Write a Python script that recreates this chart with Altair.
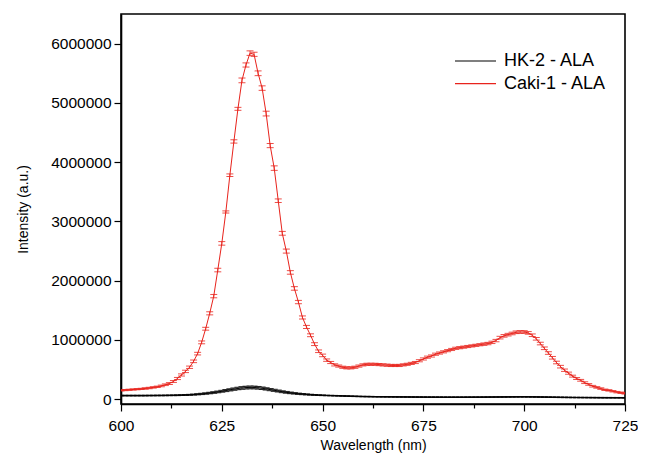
import altair as alt
import pandas as pd

wavelength = list(range(600, 726))

caki_ala = [
    150000, 155000, 160000, 165000, 170000, 175000, 182000, 190000, 200000, 210000,
    225000, 245000, 265000, 300000, 350000, 410000, 470000, 540000, 640000, 770000,
    960000, 1190000, 1450000, 1740000, 2180000, 2630000, 3160000, 3780000, 4350000, 4900000,
    5380000, 5640000, 5840000, 5820000, 5500000, 5250000, 4820000, 4280000, 3900000, 3350000,
    2800000, 2500000, 2140000, 1870000, 1640000, 1380000, 1220000, 1080000, 930000, 810000,
    740000, 660000, 620000, 580000, 560000, 540000, 530000, 530000, 540000, 560000,
    580000, 590000, 590000, 590000, 585000, 580000, 575000, 570000, 570000, 570000,
    580000, 590000, 605000, 620000, 650000, 680000, 710000, 730000, 760000, 780000,
    800000, 820000, 840000, 860000, 870000, 880000, 890000, 900000, 910000, 920000,
    930000, 940000, 960000, 990000, 1040000, 1070000, 1090000, 1110000, 1130000, 1135000,
    1135000, 1120000, 1080000, 1020000, 940000, 860000, 780000, 700000, 620000, 550000,
    490000, 440000, 390000, 350000, 320000, 280000, 250000, 220000, 200000, 180000,
    160000, 150000, 135000, 120000, 110000, 100000,
]

caki_err = [
    10000, 10000, 10000, 10000, 10000, 10000, 12000, 12000, 12000, 12000,
    14000, 14000, 16000, 16000, 18000, 18000, 20000, 20000, 22000, 22000,
    24000, 24000, 26000, 28000, 30000, 30000, 18000, 22000, 28000, 25000,
    40000, 35000, 38000, 35000, 40000, 38000, 40000, 35000, 38000, 30000,
    32000, 34000, 30000, 30000, 28000, 26000, 26000, 24000, 24000, 22000,
    22000, 20000, 18000, 18000, 18000, 18000, 18000, 18000, 18000, 18000,
    18000, 18000, 18000, 18000, 18000, 18000, 18000, 18000, 18000, 18000,
    18000, 18000, 18000, 18000, 18000, 18000, 18000, 18000, 18000, 18000,
    18000, 18000, 18000, 18000, 18000, 18000, 18000, 18000, 18000, 18000,
    20000, 20000, 20000, 20000, 22000, 22000, 22000, 22000, 22000, 22000,
    22000, 22000, 22000, 22000, 22000, 22000, 22000, 22000, 22000, 22000,
    20000, 18000, 16000, 16000, 15000, 15000, 14000, 14000, 13000, 13000,
    12000, 12000, 12000, 12000, 12000, 12000,
]

hk2_ala = [
    62000, 62000, 62000, 62000, 62000, 62000, 62000, 63000, 63000, 64000,
    64000, 65000, 66000, 67000, 68000, 70000, 72000, 75000, 79000, 84000,
    90000, 97000, 105000, 114000, 124000, 135000, 147000, 159000, 171000, 182000,
    191000, 197000, 200000, 199000, 194000, 186000, 175000, 163000, 151000, 139000,
    127000, 117000, 108000, 100000, 93000, 87000, 82000, 77000, 73000, 70000,
    67000, 64000, 62000, 60000, 58000, 56000, 54000, 52000, 50000, 48000,
    46000, 45000, 44000, 43000, 42000, 41500, 41000, 40500, 40000, 39500,
    39000, 38500, 38000, 37500, 37000, 36500, 36000, 36000, 35500, 35500,
    35000, 35000, 35000, 35000, 35000, 35000, 35500, 35500, 36000, 36000,
    36500, 37000, 37500, 38000, 38500, 39000, 39500, 40000, 40500, 41000,
    41000, 40500, 40000, 39000, 38000, 37000, 36000, 35000, 34000, 33000,
    32000, 31000, 30000, 29500, 29000, 28500, 28000, 27500, 27000, 26500,
    26000, 25800, 25600, 25400, 25200, 25000,
]

hk2_err = [
    6000, 6000, 6000, 6000, 6000, 6000, 6000, 6000, 6000, 6000,
    6000, 6000, 6000, 6000, 7000, 7000, 8000, 8000, 9000, 10000,
    11000, 12000, 13000, 14000, 15000, 16000, 18000, 19000, 20000, 21000,
    22000, 23000, 23000, 23000, 22000, 21000, 20000, 19000, 18000, 17000,
    16000, 15000, 14000, 12000, 11000, 10000, 9000, 8000, 7000, 6000,
    6000, 5000, 5000, 5000, 5000, 5000, 5000, 5000, 5000, 5000,
    5000, 5000, 5000, 5000, 5000, 5000, 5000, 5000, 5000, 5000,
    5000, 5000, 5000, 5000, 5000, 5000, 5000, 5000, 5000, 5000,
    5000, 5000, 5000, 5000, 5000, 5000, 5000, 5000, 5000, 5000,
    5000, 5000, 5000, 5000, 5000, 5000, 5000, 5000, 5000, 5000,
    5000, 5000, 5000, 5000, 5000, 5000, 5000, 5000, 5000, 5000,
    5000, 5000, 5000, 5000, 5000, 5000, 5000, 5000, 5000, 5000,
    5000, 5000, 5000, 5000, 5000, 5000,
]

series_names = ["HK-2 - ALA", "Caki-1 - ALA"]
series_colors = ["#000000", "#e8231c"]

x_ticks = [600, 612.5, 625, 637.5, 650, 662.5, 675, 687.5, 700, 712.5, 725]
y_ticks = [i * 500000 for i in range(0, 13)]

rows = []
for name, vals, errs in [(series_names[0], hk2_ala, hk2_err), (series_names[1], caki_ala, caki_err)]:
    for w, v, e in zip(wavelength, vals, errs):
        rows.append({"wl": w, "val": v, "lo": v - e, "hi": v + e, "series": name})
df = pd.DataFrame(rows)

FONT = "Liberation Sans"

xscale = alt.Scale(domain=[600, 725], nice=False, zero=False)
yscale = alt.Scale(domain=[-80000, 6500000], nice=False, zero=False)
cscale = alt.Scale(domain=series_names, range=series_colors)

xaxis = alt.Axis(
    values=x_ticks,
    labelExpr="datum.value % 25 === 0 ? datum.label : ''",
    tickSize={"condition": {"test": "datum.value % 25 === 0", "value": 7}, "value": 4},
    title="Wavelength (nm)",
    grid=False,
    labelFontSize=15.5,
    titleFontSize=14,
    labelPadding=7,
    titlePadding=5,
    labelFlush=False,
    format="d",
)
yaxis = alt.Axis(
    values=y_ticks,
    labelExpr="datum.value % 1000000 === 0 ? datum.label : ''",
    tickSize={"condition": {"test": "datum.value % 1000000 === 0", "value": 7}, "value": 4},
    title="Intensity (a.u.)",
    grid=False,
    labelFontSize=15.5,
    titleFontSize=14,
    labelPadding=3,
    titlePadding=20,
    labelFlush=False,
    format="d",
)

base = alt.Chart(df)

lines = base.mark_line(strokeWidth=1, clip=True).encode(
    x=alt.X("wl:Q", scale=xscale, axis=xaxis),
    y=alt.Y("val:Q", scale=yscale, axis=yaxis),
    color=alt.Color(
        "series:N",
        scale=cscale,
        sort=series_names,
        legend=alt.Legend(
            title=None,
            orient="none",
            legendX=333,
            legendY=38,
            symbolType="stroke",
            symbolSize=1681,
            symbolStrokeWidth=1.2,
            clipHeight=18,
            labelFontSize=18,
            labelFont=FONT,
            labelOffset=7,
            rowPadding=4.6,
            padding=0,
        ),
    ),
    order=alt.Order("wl:Q"),
)

errs = base.mark_errorbar(ticks={"size": 7}, thickness=1, opacity=0.8, clip=True).encode(
    x=alt.X("wl:Q", scale=xscale),
    y=alt.Y("lo:Q", scale=yscale, title="Intensity (a.u.)"),
    y2="hi:Q",
    color=alt.Color("series:N", scale=cscale, legend=None),
)

chart = (
    alt.layer(lines, errs)
    .properties(
        width=504,
        height=390,
        autosize=alt.AutoSizeParams(type="none"),
        padding={"left": 113, "top": 6, "right": 13, "bottom": 49},
    )
    .configure_view(stroke="#000000", strokeWidth=1.6)
    .configure_axis(
        domainColor="#000000",
        domainWidth=1.6,
        tickColor="#000000",
        tickWidth=1.2,
        labelColor="#000000",
        titleColor="#000000",
        labelFont=FONT,
        titleFont=FONT,
        titleFontWeight="normal",
    )
    .configure_legend(labelColor="#000000")
)

chart.save("out.html", embed_options={"renderer": "svg", "actions": False})
